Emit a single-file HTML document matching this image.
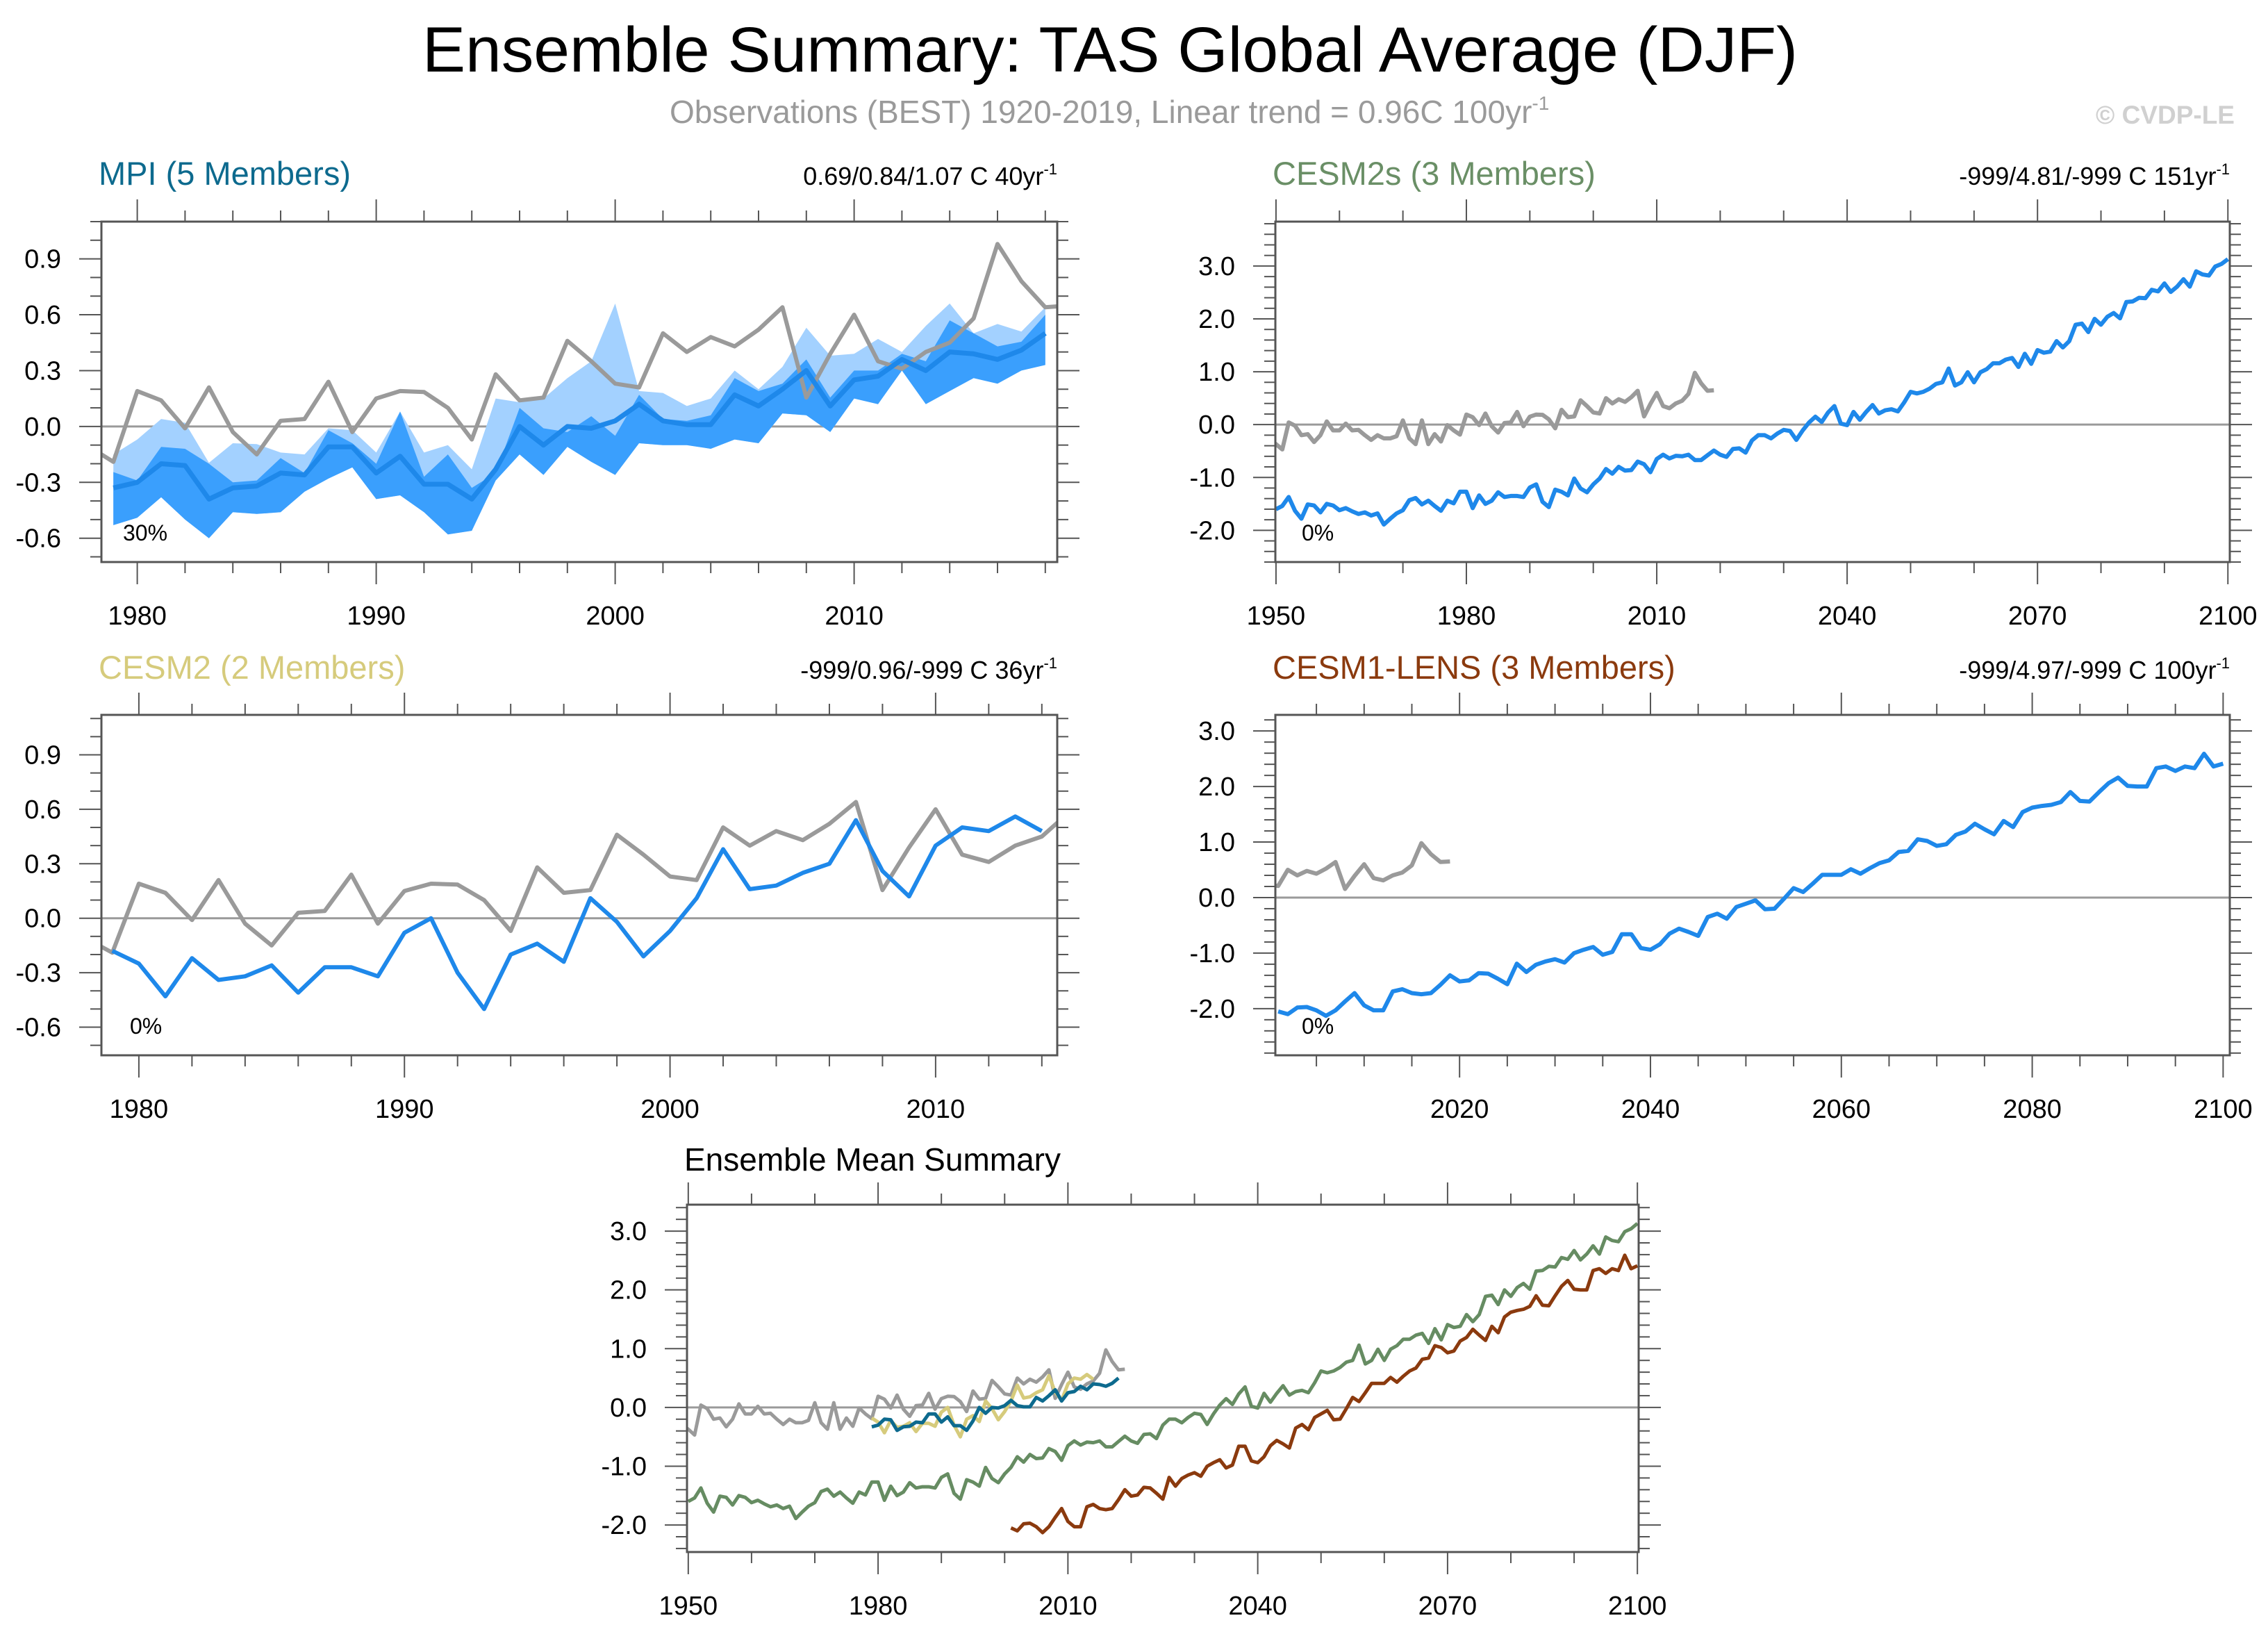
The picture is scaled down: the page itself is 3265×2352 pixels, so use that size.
<!DOCTYPE html>
<html><head><meta charset="utf-8"><style>
html,body{margin:0;padding:0;background:#fff;}
svg{display:block;font-family:"Liberation Sans",sans-serif;}
</style></head><body>
<svg id="chart" width="3265" height="2352" viewBox="0 0 3265 2352" xmlns="http://www.w3.org/2000/svg">
<text x="1598" y="103" font-size="92" text-anchor="middle" textLength="1980" lengthAdjust="spacingAndGlyphs">Ensemble Summary: TAS Global Average (DJF)</text>
<text x="964" y="177" font-size="46" fill="#9a9a9a">Observations (BEST) 1920-2019, Linear trend = 0.96C 100yr<tspan font-size="28" dy="-19">-1</tspan></text>
<text x="3217" y="178" font-size="37" font-weight="bold" fill="#d0d0d0" text-anchor="end">© CVDP-LE</text>

<text x="142" y="266" font-size="47" fill="#0d6a8e">MPI (5 Members)</text>
<text x="1522" y="266" font-size="36" text-anchor="end">0.69/0.84/1.07 C 40yr<tspan font-size="22" dy="-15">-1</tspan></text>
<text x="1832" y="266" font-size="47" fill="#6a8f66">CESM2s (3 Members)</text>
<text x="3210" y="266" font-size="36" text-anchor="end">-999/4.81/-999 C 151yr<tspan font-size="22" dy="-15">-1</tspan></text>
<text x="142" y="977" font-size="47" fill="#d6cb7c">CESM2 (2 Members)</text>
<text x="1522" y="977" font-size="36" text-anchor="end">-999/0.96/-999 C 36yr<tspan font-size="22" dy="-15">-1</tspan></text>
<text x="1832" y="977" font-size="47" fill="#8b3a0e">CESM1-LENS (3 Members)</text>
<text x="3210" y="977" font-size="36" text-anchor="end">-999/4.97/-999 C 100yr<tspan font-size="22" dy="-15">-1</tspan></text>
<text x="985" y="1685" font-size="46">Ensemble Mean Summary</text>
<g id="plots"></g>
</svg>
<script>
// ---------- data ----------
const obsStart = 1949;
const obsValues = [-0.29,-0.37,-0.47,0.04,-0.02,-0.20,-0.18,-0.33,-0.20,0.06,-0.11,-0.11,0.02,-0.11,-0.10,-0.20,-0.29,-0.20,-0.26,-0.26,-0.22,0.08,-0.26,-0.37,0.08,-0.37,-0.18,-0.32,-0.01,-0.11,
-0.19,0.19,0.14,-0.01,0.21,-0.03,-0.15,0.03,0.04,0.24,-0.03,0.15,0.19,0.185,0.10,-0.07,0.28,0.14,0.155,0.46,0.35,0.23,0.21,0.50,0.40,0.48,0.43,0.52,0.64,0.155,0.39,0.60,0.35,0.31,0.40,0.45,0.58,0.98,0.78,0.64,0.65];

const mpiStart = 1979;
const mpiMean = [-0.33,-0.30,-0.20,-0.21,-0.39,-0.33,-0.32,-0.25,-0.26,-0.11,-0.11,-0.25,-0.16,-0.31,-0.31,-0.39,-0.23,0.0,-0.10,0.0,-0.01,0.03,0.12,0.03,0.01,0.01,0.17,0.11,0.20,0.30,0.11,0.25,0.27,0.36,0.30,0.40,0.39,0.36,0.41,0.50];
const mpiIqrHigh = [-0.245,-0.29,-0.11,-0.12,-0.20,-0.30,-0.29,-0.17,-0.25,-0.02,-0.09,-0.20,0.08,-0.27,-0.15,-0.33,-0.25,0.10,-0.01,-0.03,0.055,-0.05,0.17,0.04,0.03,0.06,0.26,0.19,0.23,0.36,0.155,0.30,0.30,0.39,0.35,0.57,0.50,0.43,0.455,0.60];
const mpiIqrLow = [-0.53,-0.49,-0.38,-0.50,-0.60,-0.46,-0.47,-0.46,-0.35,-0.28,-0.22,-0.39,-0.37,-0.46,-0.58,-0.56,-0.29,-0.15,-0.26,-0.11,-0.19,-0.26,-0.09,-0.10,-0.10,-0.12,-0.07,-0.09,0.07,0.06,-0.03,0.15,0.12,0.30,0.12,0.19,0.26,0.23,0.30,0.33];
const mpiMaxValues = [-0.15,-0.07,0.04,0.02,-0.195,-0.09,-0.095,-0.14,-0.15,-0.01,-0.02,-0.14,0.08,-0.14,-0.10,-0.23,0.15,0.13,0.15,0.26,0.35,0.66,0.19,0.18,0.11,0.15,0.30,0.20,0.32,0.53,0.38,0.39,0.47,0.40,0.54,0.66,0.50,0.55,0.51,0.64];
const mpiMinValues = [-0.53,-0.49,-0.38,-0.50,-0.60,-0.46,-0.47,-0.46,-0.35,-0.28,-0.22,-0.39,-0.37,-0.46,-0.58,-0.56,-0.29,-0.15,-0.26,-0.11,-0.19,-0.26,-0.09,-0.10,-0.10,-0.12,-0.07,-0.09,0.07,0.06,-0.03,0.15,0.12,0.30,0.12,0.19,0.26,0.23,0.30,0.33];

const cesm2sStart = 1950;
const cesm2sMean = [-1.60,-1.54,-1.37,-1.63,-1.78,-1.51,-1.53,-1.66,-1.50,-1.53,-1.62,-1.58,-1.64,-1.69,-1.66,-1.72,-1.68,-1.89,-1.78,-1.68,
-1.62,-1.43,-1.39,-1.51,-1.44,-1.54,-1.63,-1.44,-1.49,-1.27,-1.27,-1.58,-1.34,-1.50,-1.44,-1.28,-1.37,-1.35,-1.35,-1.37,
-1.19,-1.13,-1.46,-1.56,-1.23,-1.27,-1.34,-1.02,-1.21,-1.28,-1.13,-1.02,-0.84,-0.93,-0.80,-0.87,-0.86,-0.70,-0.75,-0.90,
-0.65,-0.57,-0.64,-0.59,-0.60,-0.57,-0.67,-0.67,-0.58,-0.49,-0.57,-0.61,-0.46,-0.45,-0.53,-0.30,-0.20,-0.20,-0.26,-0.17,
-0.10,-0.12,-0.29,-0.11,0.04,0.15,0.05,0.23,0.35,0.02,-0.01,0.24,0.09,0.24,0.37,0.21,0.27,0.29,0.25,0.42,
0.62,0.59,0.62,0.68,0.77,0.80,1.06,0.74,0.80,0.99,0.80,0.99,1.05,1.16,1.16,1.23,1.26,1.09,1.34,1.15,
1.41,1.36,1.38,1.58,1.46,1.58,1.89,1.91,1.75,2.00,1.89,2.04,2.11,2.01,2.32,2.33,2.40,2.39,2.55,2.52,
2.67,2.51,2.61,2.75,2.61,2.90,2.84,2.82,2.99,3.04,3.13];

const cesm2Start = 1979;
const cesm2Mean = [-0.18,-0.25,-0.43,-0.22,-0.34,-0.32,-0.26,-0.41,-0.27,-0.27,-0.32,-0.08,0.0,-0.30,-0.50,-0.20,-0.14,-0.24,0.11,-0.02,-0.21,-0.07,0.11,0.38,0.16,0.18,0.25,0.30,0.54,0.26,0.12,0.40,0.50,0.48,0.56,0.48];

const cesm1Start = 2001;
const cesm1Mean = [-2.05,-2.10,-1.98,-1.97,-2.03,-2.13,-2.03,-1.87,-1.72,-1.94,-2.03,-2.03,-1.69,-1.65,-1.72,-1.74,-1.72,-1.57,-1.40,-1.51,
-1.49,-1.36,-1.37,-1.46,-1.56,-1.19,-1.34,-1.21,-1.15,-1.11,-1.17,-1.00,-0.94,-0.89,-1.03,-0.98,-0.66,-0.66,-0.91,-0.94,
-0.84,-0.65,-0.56,-0.62,-0.69,-0.35,-0.29,-0.38,-0.17,-0.11,-0.05,-0.21,-0.20,-0.02,0.17,0.10,0.25,0.41,0.41,0.41,
0.51,0.43,0.53,0.62,0.67,0.82,0.84,1.05,1.02,0.93,0.96,1.13,1.19,1.33,1.23,1.14,1.38,1.27,1.54,1.62,
1.65,1.67,1.72,1.90,1.74,1.73,1.90,2.06,2.16,2.01,2.00,2.00,2.33,2.36,2.28,2.36,2.33,2.59,2.36,2.41];

const ytickA = ["-0.6","-0.3","0.0","0.3","0.6","0.9"];
const ytickB = ["-2.0","-1.0","0.0","1.0","2.0","3.0"];

// ---------- drawing ----------
const NS = "http://www.w3.org/2000/svg";
const root = document.getElementById("plots");
function mk(tag, attrs, parent){ const e=document.createElementNS(NS,tag); for(const k in attrs) e.setAttribute(k,attrs[k]); (parent||root).appendChild(e); return e; }

function panel(cfg){
  const g = mk("g",{});
  
  
  const X = v => cfg.L + (v - cfg.x0) / (cfg.x1 - cfg.x0) * (cfg.R - cfg.L);
  const Y = v => cfg.B - (v - cfg.y0) / (cfg.y1 - cfg.y0) * (cfg.B - cfg.T);
  const clipId = cfg.name + "-clip";
  const cp = mk("clipPath",{id:clipId},g);
  mk("rect",{x:cfg.L,y:cfg.T,width:cfg.R-cfg.L,height:cfg.B-cfg.T},cp);
  const plot = mk("g",{"clip-path":"url(#"+clipId+")"},g);
  const z = mk("line",{x1:cfg.L,x2:cfg.R,y1:Y(0),y2:Y(0),stroke:"#9a9a9a","stroke-width":3},plot);
  
  
  cfg.draw(plot, X, Y);
  const box = mk("rect",{x:cfg.L,y:cfg.T,width:cfg.R-cfg.L,height:cfg.B-cfg.T,fill:"none",stroke:"#555","stroke-width":3},g);
  
  
  for(let v=Math.ceil(cfg.x0/cfg.xminor)*cfg.xminor; v<=cfg.x1+1e-6; v+=cfg.xminor){
    const major = Math.abs(v/cfg.xmajor - Math.round(v/cfg.xmajor))<1e-6;
    const len = major?32:16, x=X(v);
    mk("line",{x1:x,x2:x,y1:cfg.T,y2:cfg.T-len,stroke:"#555","stroke-width":2},g);
    mk("line",{x1:x,x2:x,y1:cfg.B,y2:cfg.B+len,stroke:"#555","stroke-width":2},g);
    if(major){
      const t = mk("text",{x:x,y:cfg.B+90,"font-size":38,"text-anchor":"middle"},g);
      t.textContent = Math.round(v);
      
      
    }
  }
  for(let k=Math.ceil(cfg.y0/cfg.yminor-1e-6); k*cfg.yminor<=cfg.y1+1e-6; k++){
    const v = k*cfg.yminor;
    const major = Math.abs(v/cfg.ymajor - Math.round(v/cfg.ymajor))<1e-6;
    const len = major?32:16, y=Y(v);
    mk("line",{x1:cfg.L,x2:cfg.L-len,y1:y,y2:y,stroke:"#555","stroke-width":2},g);
    mk("line",{x1:cfg.R,x2:cfg.R+len,y1:y,y2:y,stroke:"#555","stroke-width":2},g);
  }
  cfg.yticks.forEach(s=>{
    const v = parseFloat(s), y=Y(v);
    if(y<cfg.T-1||y>cfg.B+1) return;
    const t = mk("text",{x:cfg.L-58,y:y+13,"font-size":38,"text-anchor":"end"},g);
    t.textContent = s;
    
    
  });
  if(cfg.pct){
    const t = mk("text",{x:cfg.L+cfg.pctDx,y:cfg.B-31,"font-size":32},g);
    t.textContent = cfg.pct;
    
    
  }
}

function line(parent, X, Y, start, vals, color, w, name){
  const d = vals.map((v,i)=>(i?"L":"M")+X(start+i).toFixed(1)+","+Y(v).toFixed(1)).join("");
  const p = mk("path",{d:d,fill:"none",stroke:color,"stroke-width":w,"stroke-linejoin":"round"},parent);
  
  
}
function band(parent, X, Y, start, hi, lo, color, name){
  let d = hi.map((v,i)=>(i?"L":"M")+X(start+i).toFixed(1)+","+Y(v).toFixed(1)).join("");
  for(let i=lo.length-1;i>=0;i--) d += "L"+X(start+i).toFixed(1)+","+Y(lo[i]).toFixed(1);
  const p = mk("path",{d:d+"Z",fill:color,stroke:"none"},parent);
  
  
}

const BLUE="#1e88ea", GRAY="#9a9a9a";

panel({name:"mpi-panel",L:146,R:1522,T:319,B:809,x0:1978.5,x1:2018.5,y0:-0.728,y1:1.10,
  xmajor:10,xminor:2,ymajor:0.3,yminor:0.1,yticks:ytickA,pct:"30%",pctDx:31,
  draw:(p,X,Y)=>{
    band(p,X,Y,mpiStart,mpiMaxValues,mpiMinValues,"#a3d1ff","mpi-range-band");
    band(p,X,Y,mpiStart,mpiIqrHigh,mpiIqrLow,"#3a9ffd","mpi-iqr-band");
    line(p,X,Y,obsStart,obsValues,GRAY,6,"observations-line");
    line(p,X,Y,mpiStart,mpiMean,BLUE,7,"mpi-mean-line");
  }});

panel({name:"cesm2s-panel",L:1836,R:3210,T:319,B:809,x0:1949.9,x1:2100.3,y0:-2.6,y1:3.84,
  xmajor:30,xminor:10,ymajor:1,yminor:0.2,yticks:ytickB,pct:"0%",pctDx:38,
  draw:(p,X,Y)=>{
    line(p,X,Y,obsStart,obsValues,GRAY,6,"observations-line");
    line(p,X,Y,cesm2sStart,cesm2sMean,BLUE,6,"cesm2s-mean-line");
  }});

panel({name:"cesm2-panel",L:146,R:1522,T:1029,B:1519,x0:1978.59,x1:2014.58,y0:-0.755,y1:1.12,
  xmajor:10,xminor:2,ymajor:0.3,yminor:0.1,yticks:ytickA,pct:"0%",pctDx:41,
  draw:(p,X,Y)=>{
    line(p,X,Y,obsStart,obsValues,GRAY,6,"observations-line");
    line(p,X,Y,cesm2Start,cesm2Mean,BLUE,6,"cesm2-mean-line");
  }});

panel({name:"cesm1-panel",L:1836,R:3210,T:1029,B:1519,x0:2000.7,x1:2100.7,y0:-2.84,y1:3.29,
  xmajor:20,xminor:5,ymajor:1,yminor:0.2,yticks:ytickB,pct:"0%",pctDx:38,
  draw:(p,X,Y)=>{
    line(p,X,Y,obsStart,obsValues,GRAY,6,"observations-line");
    line(p,X,Y,cesm1Start,cesm1Mean,BLUE,6,"cesm1-mean-line");
  }});

panel({name:"summary-panel",L:989,R:2359,T:1734,B:2234,x0:1949.8,x1:2100.2,y0:-2.46,y1:3.45,
  xmajor:30,xminor:10,ymajor:1,yminor:0.2,yticks:ytickB,
  draw:(p,X,Y)=>{
    line(p,X,Y,obsStart,obsValues,GRAY,5,"observations-line");
    line(p,X,Y,cesm2sStart,cesm2sMean,"#668c62",5,"cesm2s-summary-line");
    line(p,X,Y,cesm1Start,cesm1Mean,"#8b3a0e",5,"cesm1-summary-line");
    line(p,X,Y,cesm2Start,cesm2Mean,"#d6cb7c",5,"cesm2-summary-line");
    line(p,X,Y,mpiStart,mpiMean,"#0d6a8e",5,"mpi-summary-line");
  }});
</script>
</body></html>
